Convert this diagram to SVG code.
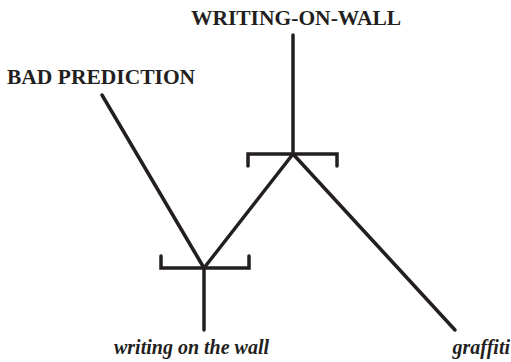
<svg xmlns="http://www.w3.org/2000/svg" width="511" height="362" viewBox="0 0 511 362">
<style>
.lbl{font-family:"Liberation Serif","Times New Roman",serif;font-weight:bold;font-size:21.5px;fill:#231f20}
.lex{font-family:"Liberation Serif","Times New Roman",serif;font-weight:bold;font-style:italic;font-size:20px;fill:#231f20}
.ln{stroke:#231f20;stroke-width:3.5;fill:none;stroke-linecap:round;stroke-linejoin:miter}
</style>
<rect width="511" height="362" fill="#fff"/>
<g id="writing-on-wall"><text class="lbl" x="296" y="25" text-anchor="middle">WRITING-ON-WALL</text></g>
<g id="bad-prediction"><text class="lbl" x="7" y="84">BAD PREDICTION</text></g>
<g id="writing-on-the-wall"><text class="lex" x="114" y="354">writing on the wall</text></g>
<g id="graffiti"><text class="lex" x="510" y="354" text-anchor="end">graffiti</text></g>
<g id="connectors">
<path class="ln" d="M293 35V154"/>
<path class="ln" d="M248 166V154H337V166"/>
<path class="ln" d="M293 154L204 268"/>
<path class="ln" d="M293 154L455 330"/>
<path class="ln" d="M161 256V268H249V256"/>
<path class="ln" d="M102 95L204 268"/>
<path class="ln" d="M204 268V330"/>
</g>
</svg>
